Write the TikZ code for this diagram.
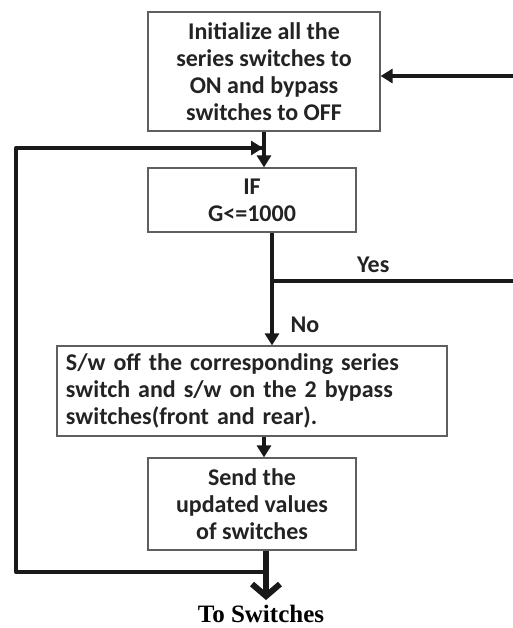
\documentclass[tikz,border=0pt]{standalone}
\usepackage{fontspec}
\setmainfont{Carlito}
\newfontfamily\capfont{Liberation Serif}
\usetikzlibrary{arrows.meta, positioning}
\definecolor{cLine}{RGB}{25,25,25}
\definecolor{cFrame}{RGB}{95,95,95}
\definecolor{cText}{RGB}{35,35,35}
\tikzset{
	stepbox/.style={rectangle, draw=cFrame, line width=0.6pt, align=center, inner sep=0pt, text=cText, font=\bfseries\fontsize{12}{13.5}\selectfont},
	flow/.style={draw=cLine, line width=2pt, -{Triangle[length=6pt,width=7pt]}},
	wire/.style={draw=cLine, line width=2pt},
	lbl/.style={text=cText, font=\bfseries\fontsize{12}{13.5}\selectfont},
}
\begin{document}
\begin{tikzpicture}[x=0.5pt, y=-0.5pt]
	\useasboundingbox (0,0) rectangle (513,628);
	% boxes
	\node[stepbox, minimum width=116pt, minimum height=59.5pt] (init) at (264,71.5)
		{Initialize all the\\ series switches to\\ ON and bypass\\ switches to OFF};
	\node[stepbox, minimum width=104pt, minimum height=32pt] (cond) at (252,200)
		{IF\\ G<=1000};
	\node[stepbox, minimum width=195pt, minimum height=45pt, text width=186pt, align=left] (act) at (252,391)
		{S/w off the corresponding series\\ switch and s/w on the 2 bypass\\ switches(front and rear).};
	\node[stepbox, minimum width=104pt, minimum height=46pt] (send) at (252,504)
		{Send the\\ updated values\\ of switches};
	\node[font=\capfont\bfseries\fontsize{12.5}{14}\selectfont] (out) at (261,614) {To Switches};
	% helper points
	\coordinate (xa) at (264,0);
	\coordinate (xb) at (272,0);
	\coordinate (xc) at (266,0);
	\coordinate (rin) at (513,76);
	\coordinate (yes) at (513,281);
	\coordinate (tip) at (266,600);
	\coordinate (back) at (266,572);
	\coordinate (bl) at (16,572);
	\coordinate (tl) at (16,148);
	\coordinate (join) at (263,148);
	% connectors
	\draw[flow] (rin) -- (rin -| init.east);
	\draw[flow] (init.south -| xa) -- (cond.north -| xa);
	\draw[flow] (cond.south -| xb) -- (act.north -| xb)
		node[lbl, pos=0.82, right=5pt] {No};
	\draw[wire] (yes -| xb) -- (yes)
		node[lbl, pos=0.42, above=0pt] {Yes};
	\draw[flow] (act.south -| xa) -- (send.north -| xa);
	\draw[wire, line join=round] (back) -- (bl) -- (tl) -- (join);
	\draw[flow] (tl) -- (join);
	\draw[draw=cLine, line width=3pt, -{Straight Barb[length=6pt, width=14pt]}] (send.south -| xc) -- (tip);
\end{tikzpicture}
\end{document}
